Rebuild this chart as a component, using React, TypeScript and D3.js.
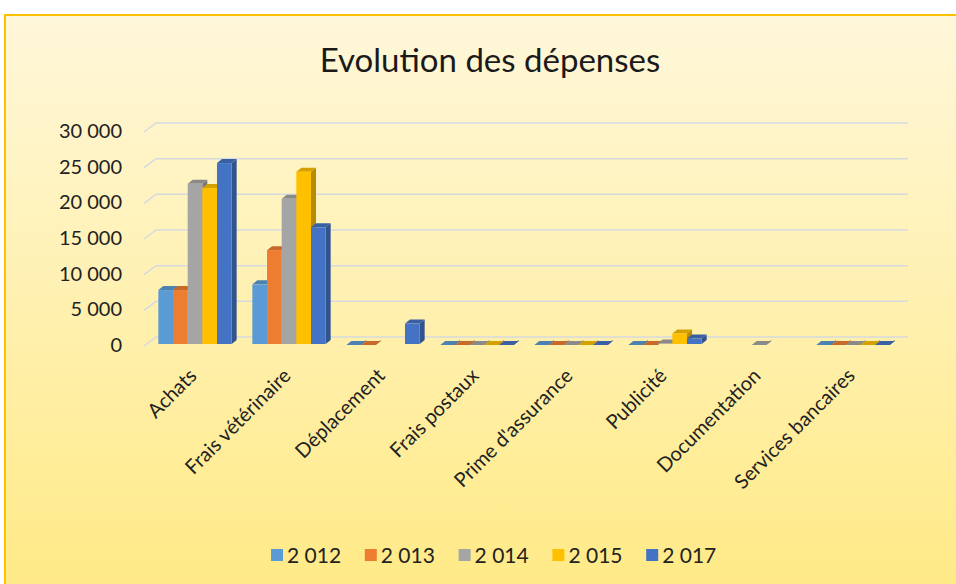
import * as d3 from 'd3';

const categories = [
	'Achats',
	'Frais vétérinaire',
	'Déplacement',
	'Frais postaux',
	"Prime d'assurance",
	'Publicité',
	'Documentation',
	'Services bancaires',
];
const years = ['2 012', '2 013', '2 014', '2 015', '2 017'];
const v2012 = [7700, 8500, 0, 0, 0, 0, null, 0];
const v2013 = [7700, 13300, 0, 0, 0, 0, null, 0];
const v2014 = [22600, 20500, null, 0, 0, 200, 0, 0];
const v2015 = [22000, 24300, null, 0, 0, 1600, null, 0];
const v2017 = [25500, 16500, 3000, 0, 0, 900, null, 0];
const yTicks = [0, 5000, 10000, 15000, 20000, 25000, 30000];
const colors = ['#5B9BD5', '#ED7D31', '#A5A5A5', '#FFC000', '#4472C4'];

const seriesValues = [v2012, v2013, v2014, v2015, v2017];

const W = 956;
const H = 584;
const font = 'Lato, "Open Sans", sans-serif';

export default function App() {
	// plot area (front plane)
	const x0 = 148;
	const x1 = 900;
	const yBase = 345;
	const yTop = 131;
	// wall depth offset
	const wdx = 12;
	const wdy = 9;
	const wallRight = 908;
	// bar depth
	const bdx = 5;
	const bdy = 4;

	const fmt = d3.formatLocale({ decimal: ',', thousands: ' ', grouping: [3], currency: ['', ''] }).format(',d');

	const y = d3.scaleLinear().domain([0, 30000]).range([yBase, yTop]);
	const xCat = d3.scaleBand().domain(categories).range([x0, x1]).paddingInner(0.22).paddingOuter(0.11);
	const xSer = d3.scaleBand().domain(years).range([0, xCat.bandwidth()]);

	const bars: { x: number; y: number; w: number; h: number; c: string }[] = [];
	categories.forEach((cat, ci) => {
		years.forEach((yr, si) => {
			const v = seriesValues[si][ci];
			if (v === null || v === undefined) return;
			const bx = (xCat(cat) || 0) + (xSer(yr) || 0);
			const top = y(v);
			bars.push({ x: bx, y: top, w: xSer.bandwidth(), h: yBase - 1 - top, c: colors[si] });
		});
	});

	return (
		<svg width={W} height={H} style={{ position: 'fixed', left: 0, top: 0 }}>
			<defs>
				<linearGradient id="bg" x1="0" y1="0" x2="0" y2="1">
					<stop offset="0" stopColor="#FFF7DA" />
					<stop offset="1" stopColor="#FFEA85" />
				</linearGradient>
			</defs>
			<rect x={0} y={0} width={W} height={H} fill="#ffffff" />
			<rect x={5} y={15} width={W + 10} height={H} fill="url(#bg)" stroke="#FFC000" strokeWidth={2} />
			<text x={490} y={72} textAnchor="middle" fontFamily={font} fontSize={33} fill="#1a1a1a">
				Evolution des dépenses
			</text>
			{yTicks.map((t) => (
				<g key={t}>
					<polyline
						points={`${x0 - 4},${y(t) + 1} ${x0 - 4 + wdx},${y(t) - wdy + 1} ${wallRight},${y(t) - wdy + 1}`}
						fill="none"
						stroke="#D6DAE0"
						strokeWidth={1.5}
					/>
					<text x={122} y={y(t)} dy="0.35em" textAnchor="end" fontFamily={font} fontSize={20} fill="#222">
						{fmt(t)}
					</text>
				</g>
			))}
			{bars.map((b, i) => {
				const c = d3.color(b.c)!;
				const side = c.darker(0.9).formatHex();
				const top = c.darker(0.5).formatHex();
				return (
					<g key={i}>
						<polygon
							points={`${b.x + b.w},${b.y} ${b.x + b.w + bdx},${b.y - bdy} ${b.x + b.w + bdx},${b.y + b.h - bdy} ${b.x + b.w},${b.y + b.h}`}
							fill={side}
						/>
						<polygon
							points={`${b.x},${b.y} ${b.x + bdx},${b.y - bdy} ${b.x + b.w + bdx},${b.y - bdy} ${b.x + b.w},${b.y}`}
							fill={top}
						/>
						<rect x={b.x} y={b.y} width={b.w} height={b.h} fill={b.c} />
					</g>
				);
			})}
			{categories.map((cat) => {
				const cx = (xCat(cat) || 0) + xCat.bandwidth() / 2 + 3;
				return (
					<text
						key={cat}
						transform={`translate(${cx},${377}) rotate(-45)`}
						textAnchor="end"
						fontFamily={font}
						fontSize={20}
						fill="#222"
					>
						{cat}
					</text>
				);
			})}
			{years.map((yr, i) => (
				<g key={yr} transform={`translate(${271 + i * 93.8},549)`}>
					<rect x={0} y={0} width={12} height={12} fill={colors[i]} />
					<text x={16} y={6} dy="0.36em" fontFamily={font} fontSize={21} fill="#222">
						{yr}
					</text>
				</g>
			))}
		</svg>
	);
}
